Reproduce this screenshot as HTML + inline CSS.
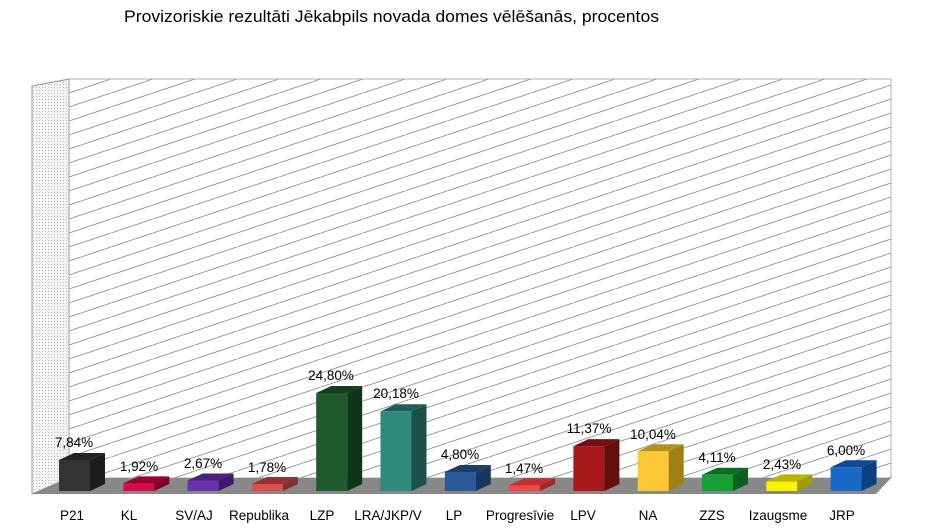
<!DOCTYPE html>
<html><head><meta charset="utf-8"><style>
body{margin:0;background:#fff}
svg{display:block}
text{font-family:"Liberation Sans",sans-serif;font-size:13.5px;fill:#000}
</style></head><body>
<svg width="942" height="531" viewBox="0 0 942 531">
<defs>
<pattern id="h" patternUnits="userSpaceOnUse" width="42" height="14" x="69" y="79">
<line x1="0" y1="14" x2="42" y2="0" stroke="#9a9a9a" stroke-width="1"/>
<line x1="-42" y1="14" x2="0" y2="0" stroke="#9a9a9a" stroke-width="1"/>
<line x1="42" y1="14" x2="84" y2="0" stroke="#9a9a9a" stroke-width="1"/>
</pattern>
<pattern id="d" patternUnits="userSpaceOnUse" width="3" height="3">
<rect width="3" height="3" fill="#f4f4f4"/><rect width="1" height="1" fill="#bbb"/>
</pattern>
</defs>
<text x="124" y="22" textLength="535" lengthAdjust="spacingAndGlyphs" style="font-size:17px">Provizoriskie rezultāti Jēkabpils novada domes vēlēšanās, procentos</text>
<rect x="69" y="79" width="822" height="399" fill="#fff"/>
<rect x="69" y="79" width="822" height="399" fill="url(#h)" stroke="#b0b0b0"/>
<polygon points="32,86 69,79 69,478 32,494" fill="url(#d)" stroke="#999"/>
<polygon points="32,494 69,478 891,478 876,494" fill="#888"/>
<g stroke="none">
<g transform="translate(59,460)"><rect width="31" height="31" fill="#333"/><polygon points="0,0 15,-7 46,-7 31,0" fill="#222"/><polygon points="31,0 46,-7 46,24 31,31" fill="#1c1c1c"/></g>
<g transform="translate(123.3,483.4)"><rect width="31" height="7.6" fill="#d0104a"/><polygon points="0,0 15,-7 46,-7 31,0" fill="#9a0030"/><polygon points="31,0 46,-7 46,0.6 31,7.6" fill="#80002a"/></g>
<g transform="translate(187.6,480.5)"><rect width="31" height="10.5" fill="#6a34a8"/><polygon points="0,0 15,-7 46,-7 31,0" fill="#4a2080"/><polygon points="31,0 46,-7 46,3.5 31,10.5" fill="#3e1a6a"/></g>
<g transform="translate(251.9,484)"><rect width="31" height="7" fill="#d85050"/><polygon points="0,0 15,-7 46,-7 31,0" fill="#9a3030"/><polygon points="31,0 46,-7 46,0 31,7" fill="#803030"/></g>
<g transform="translate(316.2,393)"><rect width="31" height="98" fill="#1f5a2c"/><polygon points="0,0 15,-7 46,-7 31,0" fill="#143e1e"/><polygon points="31,0 46,-7 46,91 31,98" fill="#10361a"/></g>
<g transform="translate(380.5,411.3)"><rect width="31" height="79.7" fill="#2e8a7c"/><polygon points="0,0 15,-7 46,-7 31,0" fill="#1e5e56"/><polygon points="31,0 46,-7 46,72.7 31,79.7" fill="#1a524a"/></g>
<g transform="translate(444.8,472)"><rect width="31" height="19" fill="#2c5a96"/><polygon points="0,0 15,-7 46,-7 31,0" fill="#1d3e6c"/><polygon points="31,0 46,-7 46,12 31,19" fill="#18365e"/></g>
<g transform="translate(509.1,485.2)"><rect width="31" height="5.8" fill="#f04848"/><polygon points="0,0 15,-7 46,-7 31,0" fill="#c03030"/><polygon points="31,0 46,-7 46,-1.2 31,5.8" fill="#a02828"/></g>
<g transform="translate(573.4,446.1)"><rect width="31" height="44.9" fill="#a8181a"/><polygon points="0,0 15,-7 46,-7 31,0" fill="#761010"/><polygon points="31,0 46,-7 46,37.9 31,44.9" fill="#640e0e"/></g>
<g transform="translate(637.7,451.3)"><rect width="31" height="39.7" fill="#fcc838"/><polygon points="0,0 15,-7 46,-7 31,0" fill="#b8901c"/><polygon points="31,0 46,-7 46,32.7 31,39.7" fill="#a07e18"/></g>
<g transform="translate(702,474.8)"><rect width="31" height="16.2" fill="#14a034"/><polygon points="0,0 15,-7 46,-7 31,0" fill="#0c7024"/><polygon points="31,0 46,-7 46,9.2 31,16.2" fill="#0a601e"/></g>
<g transform="translate(766.3,481.4)"><rect width="31" height="9.6" fill="#f8f400"/><polygon points="0,0 15,-7 46,-7 31,0" fill="#b8b400"/><polygon points="31,0 46,-7 46,2.6 31,9.6" fill="#a09c00"/></g>
<g transform="translate(830.6,467.3)"><rect width="31" height="23.7" fill="#1868c8"/><polygon points="0,0 15,-7 46,-7 31,0" fill="#0e4a96"/><polygon points="31,0 46,-7 46,16.7 31,23.7" fill="#0c4084"/></g>
</g>
<g text-anchor="middle">
<text x="74" y="447">7,84%</text>
<text x="139" y="471">1,92%</text>
<text x="203" y="468">2,67%</text>
<text x="267" y="472">1,78%</text>
<text x="331" y="380">24,80%</text>
<text x="396" y="398">20,18%</text>
<text x="460" y="459">4,80%</text>
<text x="524" y="473">1,47%</text>
<text x="589" y="433">11,37%</text>
<text x="653" y="439">10,04%</text>
<text x="717" y="462">4,11%</text>
<text x="782" y="469">2,43%</text>
<text x="846" y="455">6,00%</text>
</g>
<g text-anchor="middle">
<text x="72" y="520">P21</text>
<text x="129" y="520">KL</text>
<text x="194" y="520">SV/AJ</text>
<text x="259" y="520">Republika</text>
<text x="322" y="520">LZP</text>
<text x="388" y="520">LRA/JKP/V</text>
<text x="454" y="520">LP</text>
<text x="520" y="520">Progresīvie</text>
<text x="583" y="520">LPV</text>
<text x="648" y="520">NA</text>
<text x="712" y="520">ZZS</text>
<text x="778" y="520">Izaugsme</text>
<text x="842" y="520">JRP</text>
</g>
</svg>
</body></html>
